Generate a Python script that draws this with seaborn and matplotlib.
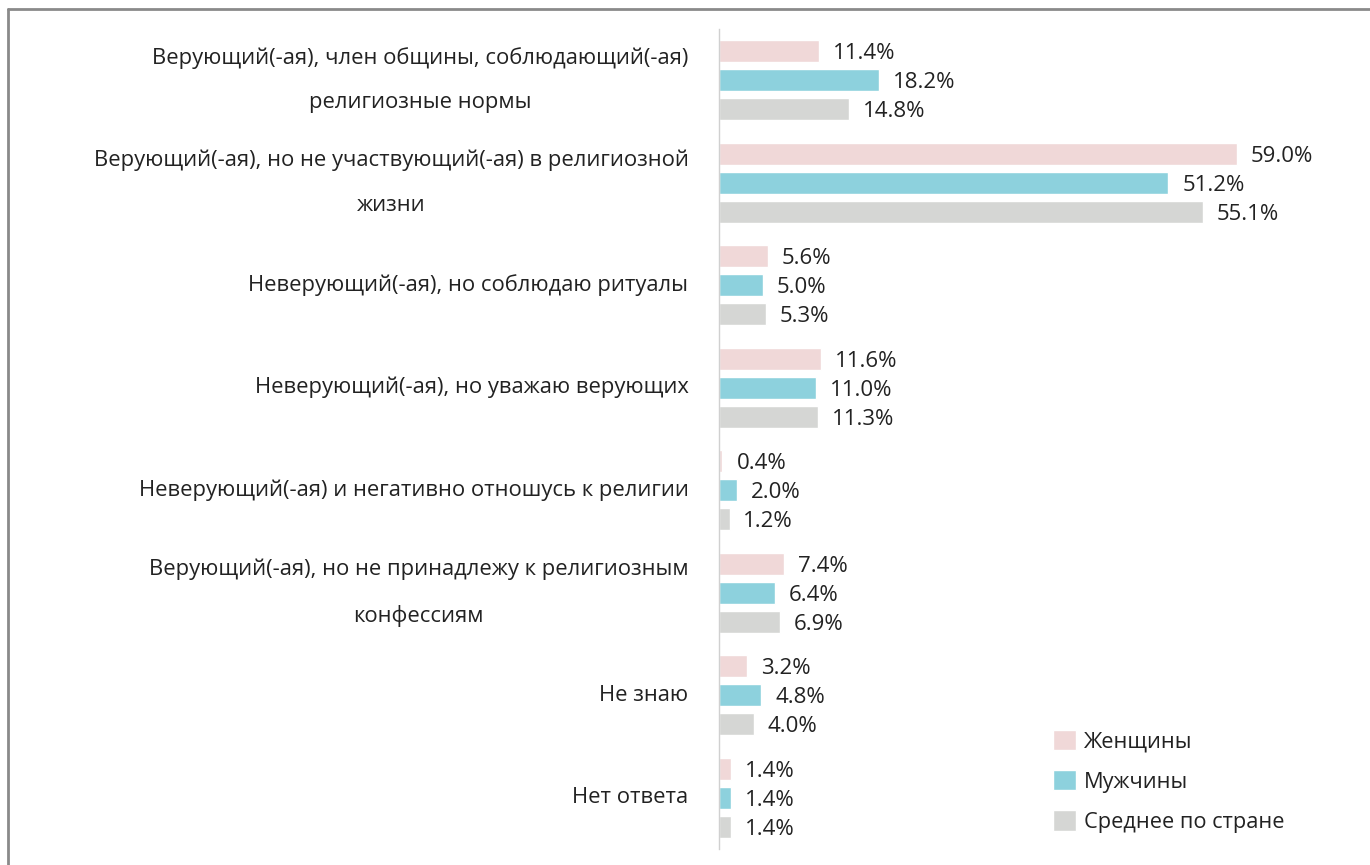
import matplotlib
matplotlib.use("Agg")
import matplotlib.pyplot as plt
from matplotlib.lines import Line2D
import pandas as pd
import seaborn as sns

# data
categories = [
    "Верующий(-ая), член общины, соблюдающий(-ая)\nрелигиозные нормы",
    "Верующий(-ая), но не участвующий(-ая) в религиозной\nжизни",
    "Неверующий(-ая), но соблюдаю ритуалы",
    "Неверующий(-ая), но уважаю верующих",
    "Неверующий(-ая) и негативно отношусь к религии",
    "Верующий(-ая), но не принадлежу к религиозным\nконфессиям",
    "Не знаю",
    "Нет ответа",
]
series = ["Женщины", "Мужчины", "Среднее по стране"]
women = [11.4, 59.0, 5.6, 11.6, 0.4, 7.4, 3.2, 1.4]
men = [18.2, 51.2, 5.0, 11.0, 2.0, 6.4, 4.8, 1.4]
average = [14.8, 55.1, 5.3, 11.3, 1.2, 6.9, 4.0, 1.4]
colors = ["#f0d8d8", "#8dd1dd", "#d5d6d4"]

sns.set_style("white")
plt.rcParams["font.family"] = ["Open Sans", "DejaVu Sans"]

rows = []
for name, vals in zip(series, [women, men, average]):
    for cat, v in zip(categories, vals):
        rows.append({"category": cat, "group": name, "value": v})
df = pd.DataFrame(rows)

fig = plt.figure(figsize=(13.7, 8.65), dpi=100)
ax = fig.add_axes([0.5248, 0.0185, 0.4486, 0.948])

sns.barplot(data=df, x="value", y="category", hue="group", order=categories,
            hue_order=series, palette=colors, saturation=1, orient="h",
            width=0.85, gap=0.24, ax=ax, legend=True)

for cont in ax.containers:
    for t in ax.bar_label(cont, fmt="%.1f%%", padding=10, fontsize=16, color="#222222"):
        t.set_verticalalignment("center_baseline")

ax.set_xlim(0, 70)
ax.set_ylim(7.5, -0.5)
ax.set_xlabel("")
ax.set_ylabel("")
ax.set_xticks([])
ax.tick_params(axis="y", length=0, pad=22, labelsize=15.8, labelcolor="#222222")
for lbl in ax.get_yticklabels():
    lbl.set_multialignment("center")
    lbl.set_linespacing(2.45)
    lbl.set_verticalalignment("center")

for s in ["top", "right", "bottom"]:
    ax.spines[s].set_visible(False)
ax.spines["left"].set_color("#d0d0d0")
ax.spines["left"].set_linewidth(1)

handles, labels = ax.get_legend_handles_labels()
ax.legend(handles, labels, loc="upper left", bbox_to_anchor=(1033 / 1370, 1 - 710 / 865),
          bbox_transform=fig.transFigure, frameon=False, fontsize=15.7,
          handlelength=1.05, handleheight=1.05, handletextpad=0.4, labelspacing=0.82,
          labelcolor="#222222")

# outer frame (top and left edges)
fig.add_artist(Line2D([8 / 1370, 8 / 1370], [0, 1 - 9 / 865], transform=fig.transFigure,
                      color="#8a8a8a", lw=2))
fig.add_artist(Line2D([8 / 1370, 1], [1 - 9 / 865, 1 - 9 / 865], transform=fig.transFigure,
                      color="#8a8a8a", lw=2))

fig.savefig("out.png", dpi=100)
